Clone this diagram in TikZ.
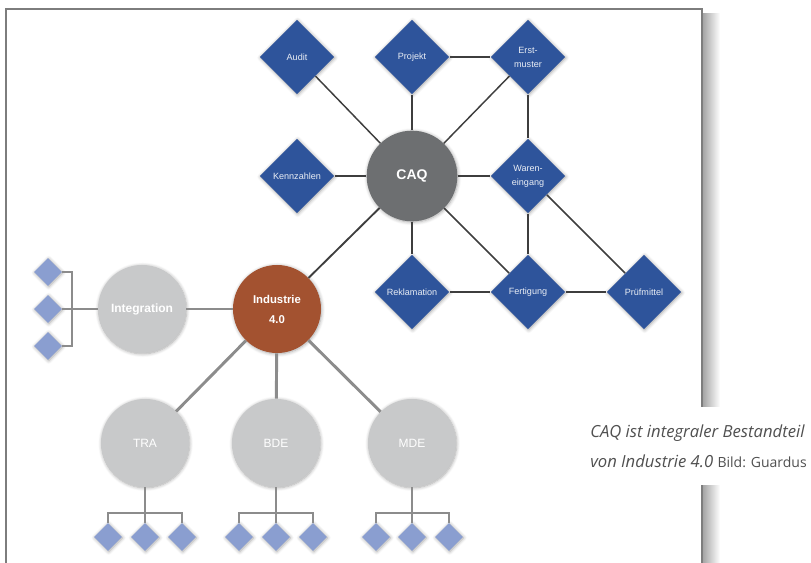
\documentclass[tikz,border=0pt]{standalone}
\usepackage{fontspec}
\setmainfont{Liberation Sans}
\newfontfamily\captionfont{Open Sans}
\usepackage{tikz}
\usetikzlibrary{shapes.geometric,shadows.blur}
\definecolor{caqblue}{RGB}{46,84,155}
\definecolor{leafblue}{RGB}{138,158,208}
\definecolor{caqgray}{RGB}{109,111,113}
\definecolor{subgray}{RGB}{200,201,202}
\definecolor{indbrown}{RGB}{163,82,48}
\definecolor{darkline}{RGB}{62,62,62}
\definecolor{lightline}{RGB}{140,140,140}
\definecolor{framegray}{RGB}{125,125,125}
\definecolor{captext}{RGB}{80,80,80}

\tikzset{
  softshadow/.style={blur shadow={shadow blur steps=6, shadow blur radius=2.5pt, shadow xshift=0.5pt, shadow yshift=-0.6pt, shadow opacity=35}},
  modul/.style={diamond, aspect=1, fill=caqblue, minimum size=56pt, inner sep=0pt, text=white!90!caqblue, align=center, font=\fontsize{6.8}{10.5}\selectfont, softshadow},
  leaf/.style={diamond, aspect=1, fill=leafblue, minimum size=21pt, inner sep=0pt, softshadow},
  hub/.style={circle, minimum size=66pt, inner sep=0pt, text=white, align=center, softshadow},
  caqlink/.style={draw=darkline, line width=1.1pt},
  indlink/.style={draw=lightline, line width=2.2pt},
  leaflink/.style={draw=lightline, line width=1.1pt},
}

\begin{document}
\begin{tikzpicture}[x=0.75pt, y=-0.75pt]

  \useasboundingbox (0,0) rectangle (811,563);

  % Frame
  \shade[left color=black!35, right color=white] (703,14) rectangle (720,563);
  \draw[framegray, line width=1.5pt] (6,570) -- (6,9) -- (702,9) -- (702,570);

  % CAQ modules
  \node[hub, fill=caqgray, minimum size=68pt, font=\bfseries\fontsize{10.5}{12}\selectfont] (CAQ) at (412,176) {CAQ};
  \node[modul] (Audit) at (297,57) {Audit};
  \node[modul] (Projekt) at (412,57) {Projekt};
  \node[modul] (Erstmuster) at (528,57) {Erst-\\muster};
  \node[modul] (Kennzahlen) at (297,176) {Kennzahlen};
  \node[modul] (Wareneingang) at (528,176) {Waren-\\eingang};
  \node[modul] (Reklamation) at (412,292) {Reklamation};
  \node[modul] (Fertigung) at (528,292) {Fertigung};
  \node[modul] (Pruefmittel) at (644,292) {Prüfmittel};

  % Industrie 4.0 and its parts
  \node[hub, fill=indbrown, font=\bfseries\fontsize{8.5}{15}\selectfont] (Industrie) at (277,309) {Industrie\\4.0};
  \node[hub, fill=subgray, font=\bfseries\fontsize{9}{11}\selectfont] (Integration) at (142,309) {Integration};
  \node[hub, fill=subgray, font=\fontsize{9}{11}\selectfont] (TRA) at (145,443) {TRA};
  \node[hub, fill=subgray, font=\fontsize{9}{11}\selectfont] (BDE) at (276,443) {BDE};
  \node[hub, fill=subgray, font=\fontsize{9}{11}\selectfont] (MDE) at (412,443) {MDE};

  % Small diamonds
  \node[leaf] (int1) at (48,272) {};
  \node[leaf] (int2) at (48,309) {};
  \node[leaf] (int3) at (48,346) {};
  \node[leaf] (tra1) at (108,537) {};
  \node[leaf] (tra2) at (145,537) {};
  \node[leaf] (tra3) at (182,537) {};
  \node[leaf] (bde1) at (239,537) {};
  \node[leaf] (bde2) at (276,537) {};
  \node[leaf] (bde3) at (313,537) {};
  \node[leaf] (mde1) at (376,537) {};
  \node[leaf] (mde2) at (412,537) {};
  \node[leaf] (mde3) at (449,537) {};

  \coordinate (intj) at (72,309);
  \coordinate (traj) at (145,513);
  \coordinate (bdej) at (276,513);
  \coordinate (mdej) at (412,513);

  % Links of the CAQ net
  \draw[caqlink] (Audit) -- (CAQ);
  \draw[caqlink] (Projekt) -- (CAQ);
  \draw[caqlink] (Projekt) -- (Erstmuster);
  \draw[caqlink] (Erstmuster) -- (CAQ);
  \draw[caqlink] (Erstmuster) -- (Wareneingang);
  \draw[caqlink] (Kennzahlen) -- (CAQ);
  \draw[caqlink] (CAQ) -- (Wareneingang);
  \draw[caqlink] (CAQ) -- (Reklamation);
  \draw[caqlink] (CAQ) -- (Fertigung);
  \draw[caqlink] (Wareneingang) -- (Fertigung);
  \draw[caqlink] (Wareneingang) -- (Pruefmittel);
  \draw[caqlink] (Reklamation) -- (Fertigung);
  \draw[caqlink] (Fertigung) -- (Pruefmittel);
  \draw[caqlink, line width=1.4pt] (CAQ) -- (Industrie);

  % Links of Industrie 4.0
  \draw[indlink] (Industrie) -- (Integration);
  \draw[indlink] (Industrie) -- (TRA);
  \draw[indlink] (Industrie) -- (BDE);
  \draw[indlink] (Industrie) -- (MDE);

  % Brackets
  \draw[leaflink] (Integration) -- (intj) -- (int2.east);
  \draw[leaflink] (int1.east) -| (intj) |- (int3.east);
  \draw[leaflink] (TRA) -- (traj) -- (tra2.north);
  \draw[leaflink] (tra1.north) |- (traj) -| (tra3.north);
  \draw[leaflink] (BDE) -- (bdej) -- (bde2.north);
  \draw[leaflink] (bde1.north) |- (bdej) -| (bde3.north);
  \draw[leaflink] (MDE) -- (mdej) -- (mde2.north);
  \draw[leaflink] (mde1.north) |- (mdej) -| (mde3.north);

  % Caption
  \node[anchor=east, fill=white, minimum height=59pt, inner xsep=3pt, align=left, text=captext, font=\captionfont\fontsize{12.5}{22.5}\selectfont] (caption) at (811,446)
    {\itshape CAQ ist integraler Bestandteil\\\itshape von Industrie 4.0 {\upshape\fontsize{10.5}{22.5}\selectfont Bild: Guardus}};

\end{tikzpicture}
\end{document}
